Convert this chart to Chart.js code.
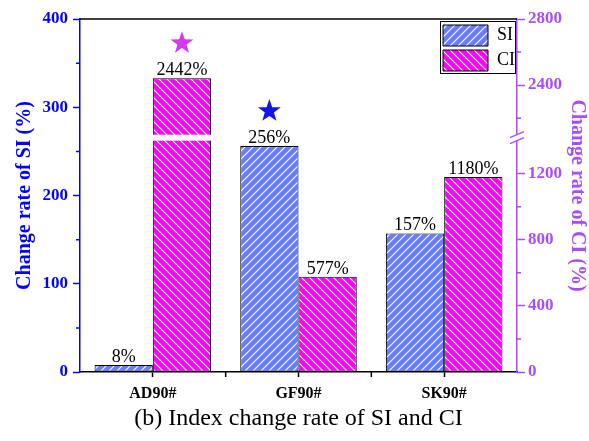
<!DOCTYPE html>
<html>
<head>
<meta charset="utf-8">
<script src="https://cdn.jsdelivr.net/npm/chart.js@4.4.1/dist/chart.umd.min.js"></script>
<style>
  html, body { margin: 0; padding: 0; background: #fff; }
</style>
</head>
<body>
<canvas id="rateChart" width="589" height="441"></canvas>
<script>
// data
const categories = ['AD90#', 'GF90#', 'SK90#'];
const siRate = [8, 256, 157];
const ciRate = [2442, 577, 1180];
const siMinorTicks = [50, 150, 250, 350];
const ciTicks = [0, 400, 800, 1200, 2400, 2800];
const ciMinorTicks = [200, 600, 1000, 2200, 2600];
const ciBreak = [1400, 2100];
const caption = '(b) Index change rate of SI and CI';

const SERIF = "'Liberation Serif', 'Times New Roman', serif";
const BLUE = '#0000ff';
const VIOLET = '#a64dff';
const BREAK_GAP = 6;

// right axis with a break between ciBreak[0] and ciBreak[1]
class BrokenScale extends Chart.LinearScale {
  static id = 'broken';
  static defaults = {};
  buildTicks() {
    return ciTicks.map(value => ({ value }));
  }
  _unit() {
    return (this._length - BREAK_GAP) / (this.max - this.min - (ciBreak[1] - ciBreak[0]));
  }
  getPixelForValue(value) {
    if (value === null || isNaN(value)) return NaN;
    const k = this._unit();
    const v = value - this.min;
    const lo = ciBreak[0] - this.min, hi = ciBreak[1] - this.min;
    const px = v <= lo ? v * k : lo * k + BREAK_GAP + (Math.max(v, hi) - hi) * k;
    return this.getPixelForDecimal(px / this._length);
  }
  getValueForPixel(pixel) {
    const k = this._unit();
    const px = this.getDecimalForPixel(pixel) * this._length;
    const lo = ciBreak[0] - this.min;
    if (px <= lo * k) return this.min + px / k;
    return ciBreak[1] + Math.max(0, px - lo * k - BREAK_GAP) / k;
  }
}
Chart.register(BrokenScale);

const ctx = document.getElementById('rateChart').getContext('2d');

function hatch(bg, forward) {
  const c = document.createElement('canvas');
  c.width = c.height = 8;
  const g = c.getContext('2d');
  g.fillStyle = bg;
  g.fillRect(0, 0, 8, 8);
  g.strokeStyle = '#ffffff';
  g.lineWidth = 1.1;
  g.beginPath();
  if (forward) {
    g.moveTo(-2, 2); g.lineTo(2, -2);
    g.moveTo(0, 8); g.lineTo(8, 0);
    g.moveTo(6, 10); g.lineTo(10, 6);
  } else {
    g.moveTo(-2, 6); g.lineTo(2, 10);
    g.moveTo(0, 0); g.lineTo(8, 8);
    g.moveTo(6, -2); g.lineTo(10, 2);
  }
  g.stroke();
  return ctx.createPattern(c, 'repeat');
}

function drawStar(c, cx, cy, r, color) {
  c.beginPath();
  for (let i = 0; i < 10; i++) {
    const rad = i % 2 ? r * 0.4 : r;
    const a = -Math.PI / 2 + i * Math.PI / 5;
    c.lineTo(cx + rad * Math.cos(a), cy + rad * Math.sin(a));
  }
  c.closePath();
  c.fillStyle = color;
  c.fill();
}

function minorTicks(c, scale, values, len, side) {
  c.beginPath();
  values.forEach(v => {
    const p = scale.getPixelForValue(v);
    if (scale.isHorizontal()) {
      c.moveTo(p, scale.top); c.lineTo(p, scale.top + len);
    } else {
      const x = side < 0 ? scale.right : scale.left;
      c.moveTo(x, p); c.lineTo(x + side * len, p);
    }
  });
  c.stroke();
}

const starColors = ['#1414e6', '#d23cf0'];

const decor = {
  id: 'decor',
  afterLayout(chart) {
    // park the legend in the top right corner of the plot
    const lg = chart.legend, a = chart.chartArea;
    lg.left = a.right - 78;
    lg.top = a.top + 2;
  },
  afterDatasetsDraw(chart) {
    const c = chart.ctx;
    const y2 = chart.scales.y2;
    const gTop = y2.getPixelForValue(ciBreak[1]);
    const gBot = y2.getPixelForValue(ciBreak[0]);
    c.save();
    // white gap across CI bars that pass the break
    chart.getDatasetMeta(1).data.forEach((bar, i) => {
      if (ciRate[i] > ciBreak[1]) {
        c.fillStyle = '#ffffff';
        c.fillRect(bar.x - bar.width / 2 - 2, gTop, bar.width + 4, gBot - gTop);
      }
    });
    // value labels
    c.font = '18px ' + SERIF;
    c.textAlign = 'center';
    c.textBaseline = 'alphabetic';
    chart.data.datasets.forEach((ds, di) => {
      const meta = chart.getDatasetMeta(di);
      c.fillStyle = '#000';
      meta.data.forEach((bar, i) => {
        c.fillText(ds.data[i] + '%', bar.x, bar.y - 3);
      });
      // star over the largest bar of each series
      const top = ds.data.indexOf(Math.max(...ds.data));
      const b = meta.data[top];
      drawStar(c, b.x, b.y - 35, 12, starColors[di]);
    });
    c.restore();
  },
  afterDraw(chart) {
    const c = chart.ctx, a = chart.chartArea;
    const { x, y, y2 } = chart.scales;
    c.save();
    // top frame
    c.strokeStyle = '#000';
    c.lineWidth = 1.5;
    c.beginPath();
    c.moveTo(a.left, a.top); c.lineTo(a.right, a.top);
    c.stroke();
    // minor ticks
    c.lineWidth = 1.5;
    c.strokeStyle = BLUE;
    minorTicks(c, y, siMinorTicks, 4, -1);
    c.strokeStyle = VIOLET;
    minorTicks(c, y2, ciMinorTicks, 4, 1);
    c.strokeStyle = '#000';
    minorTicks(c, x, categories.slice(1).map((_, i) => i + 0.5), 5, 1);
    // axis break marks
    const gTop = y2.getPixelForValue(ciBreak[1]);
    const gBot = y2.getPixelForValue(ciBreak[0]);
    c.fillStyle = '#fff';
    c.fillRect(y2.left - 2, gTop, 4, gBot - gTop);
    c.strokeStyle = VIOLET;
    c.lineWidth = 1.2;
    c.beginPath();
    [gTop, gBot].forEach(p => {
      c.moveTo(y2.left - 7, p + 3); c.lineTo(y2.left + 7, p - 3);
    });
    c.stroke();
    // legend frame
    const lg = chart.legend;
    c.strokeStyle = '#000';
    c.lineWidth = 1;
    c.strokeRect(lg.left + 1.5, lg.top + 0.5, a.right - lg.left - 3, 52);
    c.restore();
  }
};

new Chart(ctx, {
  type: 'bar',
  data: {
    labels: categories,
    datasets: [{
      label: 'SI',
      data: siRate,
      yAxisID: 'y',
      backgroundColor: hatch('#6a7ef4', true),
      borderColor: '#000',
      borderWidth: 1,
      borderSkipped: false,
      categoryPercentage: 0.8,
      barPercentage: 1.0,
    }, {
      label: 'CI',
      data: ciRate,
      yAxisID: 'y2',
      backgroundColor: hatch('#ff00ff', false),
      borderColor: '#000',
      borderWidth: 1,
      borderSkipped: false,
      categoryPercentage: 0.8,
      barPercentage: 1.0,
    }]
  },
  options: {
    responsive: false,
    animation: false,
    events: [],
    layout: { padding: { top: 19, left: 0, right: 0, bottom: 0 } },
    plugins: {
      tooltip: { enabled: false },
      legend: {
        position: 'chartArea',
        align: 'start',
        fullSize: false,
        labels: {
          boxWidth: 45,
          boxHeight: 21,
          padding: 4,
          color: '#000',
          font: { family: SERIF, size: 18 },
        }
      },
    },
    scales: {
      x: {
        offset: true,
        afterFit: s => { s.height = 69; },
        grid: { offset: false, drawOnChartArea: false, tickLength: 5, tickColor: '#000', tickWidth: 1.5 },
        border: { color: '#000', width: 1.5 },
        ticks: { color: '#000', padding: 7, font: { family: SERIF, size: 16, weight: 'bold' } },
        title: {
          display: true, text: caption, color: '#000',
          font: { family: SERIF, size: 24 }, padding: { top: 0, bottom: 8 }
        }
      },
      y: {
        position: 'left',
        min: 0,
        max: 400,
        afterFit: s => { s.width = 80; },
        grid: { drawOnChartArea: false, tickLength: 7, tickColor: BLUE, tickWidth: 1.5 },
        border: { color: BLUE, width: 1.5 },
        ticks: { stepSize: 100, color: BLUE, padding: 5, font: { family: SERIF, size: 17, weight: 'bold' } },
        title: {
          display: true, text: 'Change rate of SI (%)', color: BLUE,
          font: { family: SERIF, size: 20, weight: 'bold' }, padding: { top: 13, bottom: 0 }
        }
      },
      y2: {
        type: 'broken',
        position: 'right',
        min: 0,
        max: 2800,
        afterFit: s => { s.width = 72; },
        grid: { drawOnChartArea: false, tickLength: 8, tickColor: VIOLET, tickWidth: 1.5 },
        border: { color: VIOLET, width: 1.5 },
        ticks: {
          autoSkip: false, color: VIOLET, padding: 3,
          font: { family: SERIF, size: 17, weight: 'bold' },
          callback: v => String(v)
        },
        title: {
          display: true, text: 'Change rate of CI (%)', color: VIOLET,
          font: { family: SERIF, size: 20, weight: 'bold' }, padding: { top: 0, bottom: 0 }
        }
      }
    }
  },
  plugins: [decor]
});
</script>
</body>
</html>
